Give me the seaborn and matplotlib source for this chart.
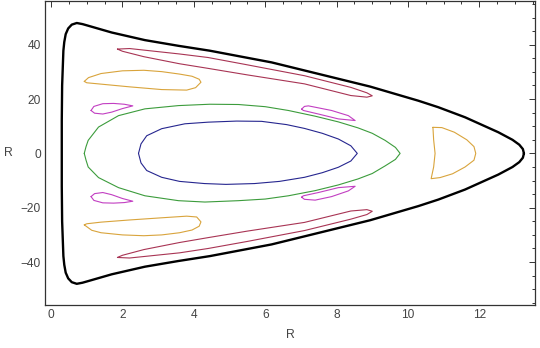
import matplotlib
matplotlib.use("Agg")
import matplotlib.pyplot as plt
import seaborn as sns
from matplotlib.ticker import MultipleLocator

# ---- data (traced contour lines) ----
black_x = [13.25, 13.22, 13.12, 12.93, 12.53, 11.6, 10.85, 10.29, 8.94, 6.18, 4.45, 3.57, 2.63, 1.70, 1.04, 0.88, 0.72, 0.58, 0.48, 0.41, 0.37, 0.345, 0.31, 0.30, 0.30,
           0.30, 0.31, 0.345, 0.37, 0.41, 0.48, 0.58, 0.72, 0.88, 1.04, 1.70, 2.63, 3.57, 4.45, 6.18, 8.94, 10.29, 10.85, 11.6, 12.53, 12.93, 13.12, 13.22, 13.25]
black_y = [0, 1.6, 3.2, 5.0, 7.8, 13.3, 17.0, 19.4, 24.6, 33.5, 37.8, 39.6, 41.7, 44.5, 47.0, 47.6, 48.0, 47.4, 46.0, 43.9, 41.0, 37.8, 25.0, 12.0, 0,
           -12.0, -25.0, -37.8, -41.0, -43.9, -46.0, -47.4, -48.0, -47.6, -47.0, -44.5, -41.7, -39.6, -37.8, -33.5, -24.6, -19.4, -17.0, -13.3, -7.8, -5.0, -3.2, -1.6, 0]

blue_x = [2.45, 2.52, 2.68, 3.1, 3.75, 4.4, 5.2, 5.9, 6.6, 7.1, 7.6, 8.05, 8.4, 8.58,
          8.4, 8.05, 7.6, 7.1, 6.4, 5.7, 4.9, 4.3, 3.6, 3.1, 2.68, 2.52, 2.45]
blue_y = [0, 3.5, 6.5, 9.1, 10.9, 11.5, 11.9, 11.8, 10.6, 9.2, 7.4, 5.3, 2.8, 0,
          -2.8, -5.1, -7.1, -8.8, -10.3, -11.1, -11.4, -11.1, -10.3, -8.8, -6.3, -3.5, 0]

green_x = [0.93, 0.98, 1.04, 1.33, 1.89, 2.63, 3.57, 4.45, 5.25, 6.0, 6.65, 7.4, 8.05, 8.6, 9.0, 9.36, 9.65, 9.78,
           9.65, 9.36, 9.0, 8.6, 8.05, 7.4, 6.65, 6.0, 5.25, 4.31, 3.57, 2.63, 1.89, 1.33, 1.04, 0.98, 0.93]
green_y = [0, 2.5, 4.8, 9.7, 13.9, 16.4, 17.6, 18.1, 18.0, 17.2, 15.8, 13.7, 11.6, 9.4, 7.4, 4.8, 2.2, 0,
           -2.2, -4.6, -7.4, -9.4, -11.6, -13.7, -15.6, -16.8, -17.4, -17.9, -17.4, -15.6, -12.6, -8.9, -5.0, -2.5, 0]

magenta_tl_x = [1.12, 1.2, 1.45, 1.75, 2.05, 2.29, 2.0, 1.7, 1.45, 1.22, 1.12]
magenta_tl_y = [15.8, 17.3, 18.3, 18.4, 18.1, 17.5, 16.5, 15.2, 14.5, 14.8, 15.8]
magenta_bl_x = [1.12, 1.2, 1.45, 1.75, 2.05, 2.29, 2.0, 1.7, 1.45, 1.22, 1.12]
magenta_bl_y = [-15.9, -17.3, -18.2, -18.3, -18.1, -17.6, -16.6, -15.2, -14.4, -14.8, -15.9]
magenta_tr_x = [7.02, 7.1, 7.21, 7.86, 8.33, 8.52, 8.05, 7.49, 7.07, 7.02]
magenta_tr_y = [16.3, 17.3, 17.5, 15.8, 13.9, 12.1, 12.7, 14.5, 15.8, 16.3]
magenta_br_x = [7.02, 7.1, 7.4, 7.86, 8.33, 8.52, 8.05, 7.49, 7.07, 7.02]
magenta_br_y = [-16.1, -16.9, -17.2, -15.9, -13.8, -12.1, -12.6, -14.4, -15.6, -16.1]

red_top_x = [1.86, 2.2, 3.6, 4.4, 5.5, 7.1, 8.4, 8.85, 9.0, 8.85, 8.4, 7.1, 5.5, 4.4, 3.6, 2.6, 2.0, 1.86]
red_top_y = [38.4, 38.6, 36.6, 35.3, 32.6, 28.6, 24.3, 22.3, 21.2, 20.7, 21.3, 25.6, 28.9, 31.3, 33.0, 35.6, 37.6, 38.4]
red_bot_x = [1.86, 2.2, 3.6, 4.4, 5.5, 7.1, 8.4, 8.85, 9.0, 8.85, 8.4, 7.1, 5.5, 4.4, 3.6, 2.6, 2.0, 1.86]
red_bot_y = [-38.3, -38.5, -36.6, -35.0, -32.4, -28.4, -24.2, -22.5, -21.3, -20.7, -21.2, -25.4, -28.6, -31.0, -32.8, -35.4, -37.5, -38.3]

orange_tl_x = [0.93, 1.05, 1.4, 2.0, 2.6, 3.1, 3.6, 3.95, 4.15, 4.2, 4.05, 3.8, 3.1, 2.2, 1.4, 1.0, 0.93]
orange_tl_y = [26.5, 27.9, 29.4, 30.4, 30.6, 30.1, 29.2, 28.4, 27.3, 26.2, 24.2, 23.3, 23.5, 24.5, 25.5, 26.0, 26.5]
orange_bl_x = [0.93, 1.0, 1.4, 2.2, 3.1, 3.8, 4.08, 4.2, 4.15, 3.95, 3.6, 3.1, 2.6, 2.0, 1.4, 1.14, 0.93]
orange_bl_y = [-26.3, -25.9, -25.3, -24.5, -23.7, -23.1, -23.4, -25.2, -26.8, -28.2, -29.2, -30.0, -30.3, -30.0, -29.2, -28.3, -26.3]
orange_r_x = [10.7, 10.95, 11.3, 11.65, 11.85, 11.9, 11.85, 11.6, 11.25, 10.9, 10.65, 10.72, 10.76, 10.72, 10.7]
orange_r_y = [9.6, 9.5, 7.8, 5.0, 2.5, 0, -2.5, -5.0, -7.5, -8.9, -9.3, -5.0, 0, 5.0, 9.6]

x_ticks = [0, 2, 4, 6, 8, 10, 12]
y_ticks = [-40, -20, 0, 20, 40]
x_label = "R"
y_label = "R"

# ---- styling ----
sns.set_style("white")
plt.rcParams['font.family'] = ['Liberation Sans', 'DejaVu Sans']

fig = plt.figure(figsize=(5.4, 3.48), dpi=100)
ax = fig.add_axes([45 / 540, 43 / 348, 490 / 540, 304 / 348])

C_BLACK = "#000000"
C_BLUE = "#26268f"
C_GREEN = "#3c9c3c"
C_MAG = "#c23fc2"
C_RED = "#a83454"
C_ORANGE = "#d9a43c"

def draw(xs, ys, color, lw):
    sns.lineplot(x=xs, y=ys, sort=False, estimator=None, color=color, lw=lw, ax=ax)

draw(black_x, black_y, C_BLACK, 1.7)
draw(blue_x, blue_y, C_BLUE, 0.8)
draw(green_x, green_y, C_GREEN, 0.8)
draw(magenta_tl_x, magenta_tl_y, C_MAG, 0.8)
draw(magenta_bl_x, magenta_bl_y, C_MAG, 0.8)
draw(magenta_tr_x, magenta_tr_y, C_MAG, 0.8)
draw(magenta_br_x, magenta_br_y, C_MAG, 0.8)
draw(red_top_x, red_top_y, C_RED, 0.8)
draw(red_bot_x, red_bot_y, C_RED, 0.8)
draw(orange_tl_x, orange_tl_y, C_ORANGE, 0.8)
draw(orange_bl_x, orange_bl_y, C_ORANGE, 0.8)
draw(orange_r_x, orange_r_y, C_ORANGE, 0.8)

ax.set_xlim(-0.17, 13.56)
ax.set_ylim(-55.8, 56.1)
ax.set_xticks(x_ticks)
ax.set_yticks(y_ticks)
ax.xaxis.set_minor_locator(MultipleLocator(0.5))
ax.yaxis.set_minor_locator(MultipleLocator(5))
ax.tick_params(which="both", direction="in", top=True, right=True,
               labeltop=False, labelright=False, colors="#333333",
               labelcolor="#444444", labelsize=8.6, width=0.7)
ax.tick_params(which="major", length=4, pad=3)
ax.tick_params(which="minor", length=2)
for sp in ax.spines.values():
    sp.set_color("#333333")
    sp.set_linewidth(0.9)

ax.set_xlabel(x_label, fontsize=8.8, color="#444444", labelpad=6)
ax.set_ylabel(y_label, fontsize=8.8, color="#444444", rotation=0, labelpad=12, va="center")
ax.yaxis.set_label_coords(-0.075, 0.5)

fig.savefig("out.png", dpi=100)
